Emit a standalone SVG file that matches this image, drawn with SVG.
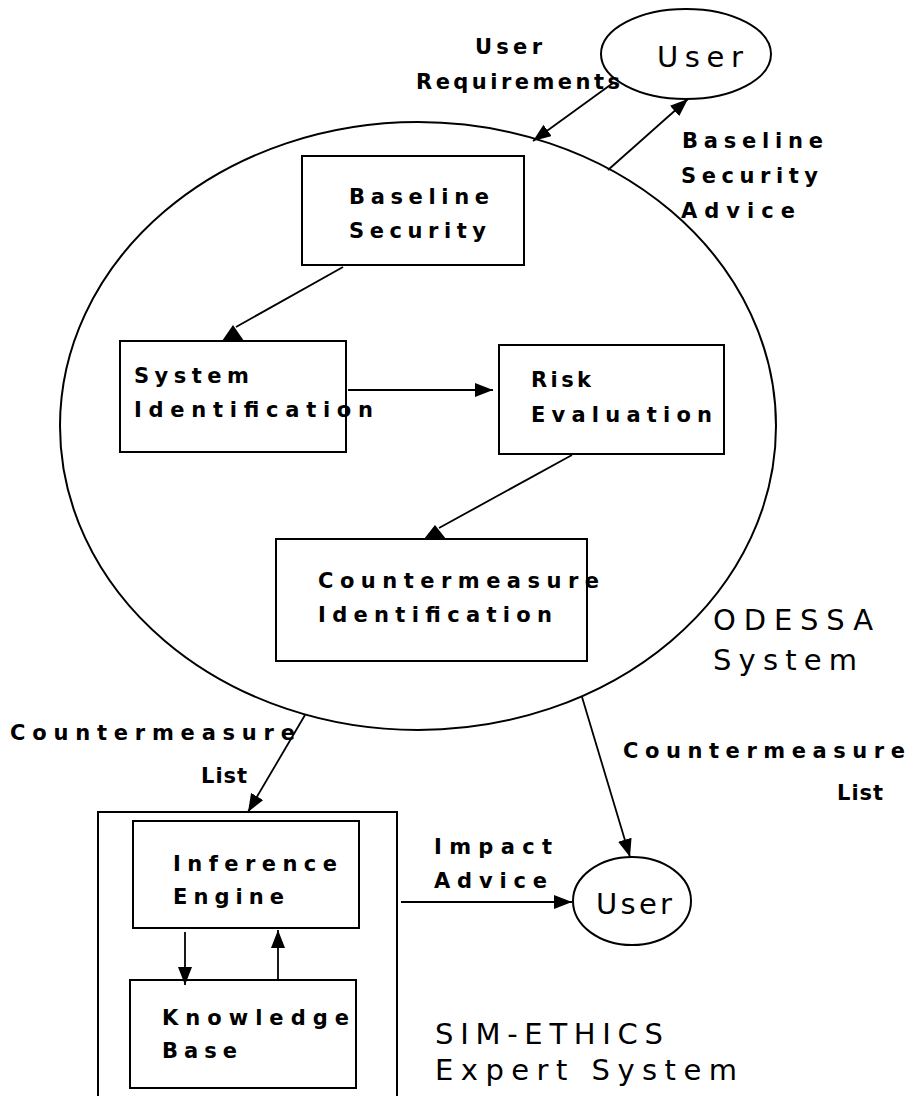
<svg xmlns="http://www.w3.org/2000/svg" width="912" height="1096" viewBox="0 0 912 1096">
  <style>
    .shape { fill: none; stroke: #000; stroke-width: 2; }
    .edge { fill: none; stroke: #000; stroke-width: 1.8; }
    .head { fill: #000; stroke: none; }
    .lbl { font-family: "DejaVu Sans", "Liberation Sans", Arial, sans-serif; font-size: 21px; font-weight: bold; fill: #000; }
    .big { font-family: "DejaVu Sans", "Liberation Sans", Arial, sans-serif; font-size: 29px; fill: #000; }
  </style>
  <defs>
    <marker id="arrow" viewBox="0 0 18 14" refX="18" refY="7" markerWidth="18" markerHeight="14" markerUnits="userSpaceOnUse" orient="auto">
      <path d="M0,0 L18,7 L0,14 Z" class="head"/>
    </marker>
  </defs>
  <rect width="912" height="1096" fill="#fff"/>

  <!-- ODESSA system boundary -->
  <g id="odessa">
    <ellipse class="shape" cx="418" cy="426" rx="358" ry="304"/>
    <text class="big" x="713" y="630" textLength="160" lengthAdjust="spacing">ODESSA</text>
    <text class="big" x="713" y="670" textLength="144" lengthAdjust="spacing">System</text>
  </g>

  <g id="user-top">
    <ellipse class="shape" cx="686" cy="54" rx="85" ry="45"/>
    <text class="big" x="657" y="67" textLength="86" lengthAdjust="spacing">User</text>
  </g>

  <g id="baseline-security">
    <rect class="shape" x="302" y="156" width="222" height="109"/>
    <text class="lbl" x="349" y="204" textLength="140" lengthAdjust="spacing">Baseline</text>
    <text class="lbl" x="349" y="238" textLength="137" lengthAdjust="spacing">Security</text>
  </g>

  <g id="system-identification">
    <rect class="shape" x="120" y="341" width="226" height="111"/>
    <text class="lbl" x="134" y="383" textLength="115" lengthAdjust="spacing">System</text>
    <text class="lbl" x="134" y="417" textLength="239" lengthAdjust="spacing">Identification</text>
  </g>

  <g id="risk-evaluation">
    <rect class="shape" x="499" y="345" width="225" height="109"/>
    <text class="lbl" x="531" y="387" textLength="60" lengthAdjust="spacing">Risk</text>
    <text class="lbl" x="531" y="422" textLength="181" lengthAdjust="spacing">Evaluation</text>
  </g>

  <g id="countermeasure-identification">
    <rect class="shape" x="276" y="539" width="311" height="122"/>
    <text class="lbl" x="318" y="588" textLength="281" lengthAdjust="spacing">Countermeasure</text>
    <text class="lbl" x="318" y="622" textLength="234" lengthAdjust="spacing">Identification</text>
  </g>

  <!-- SIM-ETHICS expert system container (open at the bottom) -->
  <g id="sim-ethics">
    <path class="shape" d="M98,1100 V812 H397 V1100"/>
    <text class="big" x="435" y="1044" textLength="228" lengthAdjust="spacing">SIM-ETHICS</text>
    <text class="big" x="435" y="1080" textLength="302" lengthAdjust="spacing">Expert System</text>
  </g>

  <g id="inference-engine">
    <rect class="shape" x="133" y="821" width="226" height="107"/>
    <text class="lbl" x="173" y="871" textLength="164" lengthAdjust="spacing">Inference</text>
    <text class="lbl" x="173" y="904" textLength="111" lengthAdjust="spacing">Engine</text>
  </g>

  <g id="knowledge-base">
    <rect class="shape" x="130" y="980" width="226" height="108"/>
    <text class="lbl" x="162" y="1025" textLength="187" lengthAdjust="spacing">Knowledge</text>
    <text class="lbl" x="162" y="1058" textLength="75" lengthAdjust="spacing">Base</text>
  </g>

  <g id="user-bottom">
    <ellipse class="shape" cx="632" cy="901" rx="59" ry="44"/>
    <text class="big" x="596" y="914" textLength="76" lengthAdjust="spacing">User</text>
  </g>

  <!-- flows between components -->
  <g id="connectors">
    <line class="edge" x1="613" y1="83" x2="533" y2="141" marker-end="url(#arrow)"/>
    <line class="edge" x1="608" y1="170" x2="688" y2="99" marker-end="url(#arrow)"/>

    <line class="edge" x1="343" y1="267" x2="236" y2="327"/>
    <polygon class="head" points="233,325 244,341 222,341"/>

    <line class="edge" x1="348" y1="390" x2="493" y2="390" marker-end="url(#arrow)"/>

    <line class="edge" x1="572" y1="455" x2="439" y2="528"/>
    <polygon class="head" points="435,525 446,539 424,539"/>

    <line class="edge" x1="305" y1="715" x2="248" y2="812" marker-end="url(#arrow)"/>
    <line class="edge" x1="582" y1="697" x2="630" y2="857" marker-end="url(#arrow)"/>
    <line class="edge" x1="401" y1="902" x2="572" y2="902" marker-end="url(#arrow)"/>
    <line class="edge" x1="185" y1="932" x2="185" y2="985" marker-end="url(#arrow)"/>
    <line class="edge" x1="278" y1="980" x2="278" y2="930" marker-end="url(#arrow)"/>

    <text class="lbl" x="475" y="54" textLength="67" lengthAdjust="spacing">User</text>
    <text class="lbl" x="416" y="89" textLength="204" lengthAdjust="spacing">Requirements</text>

    <text class="lbl" x="682" y="148" textLength="141" lengthAdjust="spacing">Baseline</text>
    <text class="lbl" x="681" y="183" textLength="137" lengthAdjust="spacing">Security</text>
    <text class="lbl" x="681" y="218" textLength="114" lengthAdjust="spacing">Advice</text>

    <text class="lbl" x="10" y="740" textLength="285" lengthAdjust="spacing">Countermeasure</text>
    <text class="lbl" x="201" y="783" letter-spacing="1">List</text>

    <text class="lbl" x="623" y="758" textLength="282" lengthAdjust="spacing">Countermeasure</text>
    <text class="lbl" x="837" y="800" letter-spacing="1">List</text>

    <text class="lbl" x="434" y="854" textLength="118" lengthAdjust="spacing">Impact</text>
    <text class="lbl" x="434" y="888" textLength="113" lengthAdjust="spacing">Advice</text>
  </g>
</svg>
